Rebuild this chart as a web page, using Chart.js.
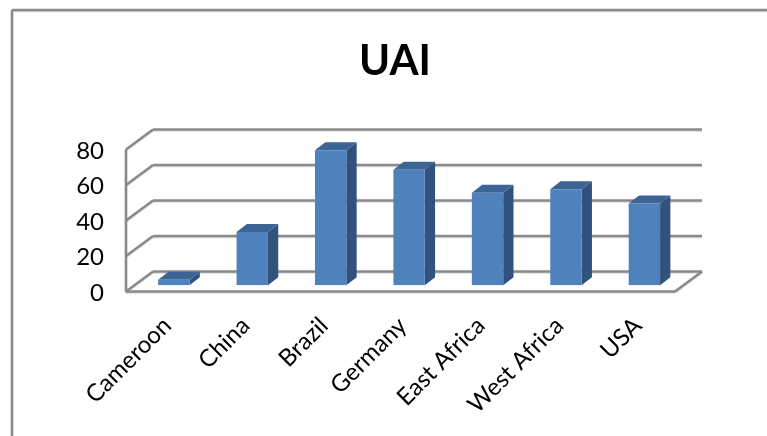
<!DOCTYPE html>
<html>
<head>
<meta charset="utf-8">
<title>UAI</title>
<style>
  html, body { margin: 0; padding: 0; background: #fff; overflow: hidden; }
  canvas { display: block; }
</style>
<script src="https://cdn.jsdelivr.net/npm/chart.js@4/dist/chart.umd.min.js"></script>
</head>
<body>
<canvas id="chart" width="767" height="436"></canvas>
<script>
const categories = ['Cameroon', 'China', 'Brazil', 'Germany', 'East Africa', 'West Africa', 'USA'];
const uaiValues = [3, 30, 76, 65, 52, 54, 46];
const tickValues = [0, 20, 40, 60, 80];

const FONT = 'Lato, "Open Sans", sans-serif';
const GRID = '#8a8a8a';
// depth of the floor, and where the bars stand on it
const DEPTH_X = 27, DEPTH_Y = -20;
const BAR_X = 8.6, BAR_Y = -6.3;
const SIDE_X = 10.3, SIDE_Y = -8;

function line(ctx, x1, y1, x2, y2) {
    ctx.beginPath();
    ctx.moveTo(x1, y1);
    ctx.lineTo(x2, y2);
    ctx.stroke();
}

function face(ctx, color, pts) {
    ctx.fillStyle = color;
    ctx.beginPath();
    pts.forEach((p, i) => i ? ctx.lineTo(p[0], p[1]) : ctx.moveTo(p[0], p[1]));
    ctx.closePath();
    ctx.fill();
}

const framePlugin = {
    id: 'frame',
    afterLayout(chart) {
        // title is centred on the plot, not on the canvas
        chart.titleBlock.left += 115;
    },
    beforeDatasetsDraw(chart) {
        const { ctx, scales: { x, y }, chartArea: area } = chart;
        ctx.save();
        ctx.strokeStyle = GRID;
        ctx.lineWidth = 2.5;
        ctx.shadowColor = 'rgba(0,0,0,0.15)';
        ctx.shadowOffsetY = 1;
        ctx.shadowBlur = 1;
        // outer chart border, only top and left are inside the picture
        line(ctx, 12, 10, 767, 10);
        line(ctx, 12, 10, 12, 436);
        // back wall lines and their diagonals
        tickValues.forEach(v => {
            const py = y.getPixelForValue(v);
            line(ctx, area.left, py, area.left + DEPTH_X, py + DEPTH_Y);
            line(ctx, area.left + DEPTH_X, py + DEPTH_Y, area.right + DEPTH_X, py + DEPTH_Y);
        });
        // front axis and floor
        const y0 = y.getPixelForValue(0);
        line(ctx, area.left, area.top, area.left, y0);
        line(ctx, area.left, y0, area.right, y0);
        line(ctx, area.right, y0, area.right + DEPTH_X, y0 + DEPTH_Y);
        ctx.restore();
    },
    beforeDatasetDraw(chart, args) {
        const { ctx } = chart;
        ctx.save();
        ctx.translate(BAR_X, BAR_Y);
        chart.getDatasetMeta(args.index).data.forEach(bar => {
            const l = bar.x - bar.width / 2, r = bar.x + bar.width / 2;
            face(ctx, '#31527c', [[r, bar.y], [r + SIDE_X, bar.y + SIDE_Y], [r + SIDE_X, bar.base + SIDE_Y], [r, bar.base]]);
            face(ctx, '#3c6494', [[l, bar.y], [l + SIDE_X, bar.y + SIDE_Y], [r + SIDE_X, bar.y + SIDE_Y], [r, bar.y]]);
        });
    },
    afterDatasetDraw(chart) {
        chart.ctx.restore();
    }
};

new Chart(document.getElementById('chart'), {
    type: 'bar',
    data: {
        labels: categories,
        datasets: [{
            label: 'UAI',
            data: uaiValues,
            backgroundColor: '#4f81bd',
            borderWidth: 0,
            categoryPercentage: 1,
            barPercentage: 0.4
        }]
    },
    plugins: [framePlugin],
    options: {
        responsive: false,
        animation: false,
        layout: { padding: { left: 0, right: 92, top: 0, bottom: 0 } },
        plugins: {
            legend: { display: false },
            tooltip: { enabled: false },
            title: {
                display: true,
                text: 'UAI',
                color: '#000',
                font: { family: FONT, size: 42, weight: 'bold', lineHeight: 1.2 },
                padding: { top: 36, bottom: 63 }
            }
        },
        scales: {
            x: {
                grid: { display: false, drawTicks: false },
                border: { display: false },
                afterFit(scale) {
                    scale.height = 144.5;
                    scale.paddingLeft = 0;
                    scale.paddingRight = 0;
                },
                ticks: {
                    autoSkip: false,
                    minRotation: 45,
                    maxRotation: 45,
                    padding: 20,
                    labelOffset: 2,
                    color: '#000',
                    font: { family: FONT, size: 24 }
                }
            },
            y: {
                min: 0,
                max: 80,
                grid: { display: false, drawTicks: false },
                border: { display: false },
                afterBuildTicks(scale) {
                    scale.ticks = tickValues.map(v => ({ value: v }));
                },
                afterFit(scale) {
                    scale.width = 126;
                },
                ticks: {
                    padding: 22,
                    labelOffset: 1.5,
                    color: '#000',
                    font: { family: FONT, size: 24 }
                }
            }
        }
    }
});
</script>
</body>
</html>
